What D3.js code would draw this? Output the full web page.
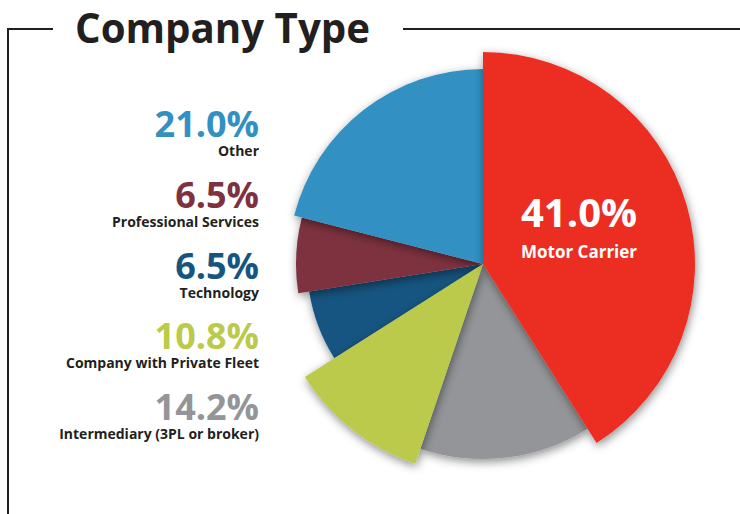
<!DOCTYPE html>
<html>
<head>
<meta charset="utf-8">
<script src="https://cdn.jsdelivr.net/npm/d3@7"></script>
<style>
  body { margin: 0; background: #fff; }
  text { font-family: "Open Sans", "Liberation Sans", sans-serif; font-weight: 700; }
</style>
</head>
<body>
<svg id="chart"></svg>
<script>
// Data (clockwise from 12 o'clock)
const categories = ['Motor Carrier', 'Intermediary (3PL or broker)', 'Company with Private Fleet',
                    'Technology', 'Professional Services', 'Other'];
const shares = [41.0, 14.2, 10.8, 6.5, 6.5, 21.0];

// legend order, top to bottom
const legendOrder = ['Other', 'Professional Services', 'Technology',
                     'Company with Private Fleet', 'Intermediary (3PL or broker)'];

const colors = {
  'Motor Carrier': '#ec2e24',
  'Intermediary (3PL or broker)': '#939598',
  'Company with Private Fleet': '#bbca4b',
  'Technology': '#175581',
  'Professional Services': '#7e3140',
  'Other': '#3390c3'
};

// each wedge sticks out a different amount
const radii = {
  'Motor Carrier': 212,
  'Intermediary (3PL or broker)': 195,
  'Company with Private Fleet': 211,
  'Technology': 176,
  'Professional Services': 187,
  'Other': 195
};
// draw order so the shadows overlap the way they do in the original
const drawOrder = ['Technology', 'Professional Services', 'Intermediary (3PL or broker)',
                   'Other', 'Company with Private Fleet', 'Motor Carrier'];

const width = 740, height = 514;
const cx = 483, cy = 264;
const ink = '#231f20';

const svg = d3.select('#chart')
    .attr('width', width)
    .attr('height', height);

const defs = svg.append('defs');
const shadow = defs.append('filter')
    .attr('id', 'shadow')
    .attr('x', '-20%').attr('y', '-20%')
    .attr('width', '140%').attr('height', '140%');
shadow.append('feDropShadow')
    .attr('dx', 1).attr('dy', 3)
    .attr('stdDeviation', 5)
    .attr('flood-color', '#000')
    .attr('flood-opacity', 0.45);

// frame with the title breaking the top rule
svg.append('path')
    .attr('d', `M8,${height + 2} V29 H53 M403,29 H${width + 2}`)
    .attr('fill', 'none')
    .attr('stroke', ink)
    .attr('stroke-width', 2);

svg.append('text')
    .attr('x', 75)
    .attr('y', 43)
    .attr('font-size', 41)
    .attr('fill', ink)
    .text('Company Type')
    .call(fitWidth, 295);

// pie
const data = categories.map((c, i) => ({category: c, value: shares[i]}));
const pie = d3.pie()
    .sort(null)
    .value(d => d.value)
    .startAngle(0)
    .endAngle(2 * Math.PI);
const arcs = pie(data);
arcs.sort((a, b) => drawOrder.indexOf(a.data.category) - drawOrder.indexOf(b.data.category));

const arc = d3.arc()
    .innerRadius(0)
    .outerRadius(d => radii[d.data.category]);

const chart = svg.append('g')
    .attr('transform', `translate(${cx},${cy})`);

chart.selectAll('.slice')
    .data(arcs)
  .join('path')
    .attr('class', 'slice')
    .attr('d', arc)
    .attr('fill', d => colors[d.data.category])
    .attr('filter', 'url(#shadow)');

// label inside the big wedge
const motor = arcs.find(d => d.data.category === 'Motor Carrier');
const [lx, ly] = d3.pointRadial((motor.startAngle + motor.endAngle) / 2, 100);
chart.append('text')
    .attr('x', lx)
    .attr('y', ly - 9)
    .attr('text-anchor', 'middle')
    .attr('font-size', 40)
    .attr('fill', '#fff')
    .text(d3.format('.1f')(motor.data.value) + '%')
    .call(fitWidth, 117);
chart.append('text')
    .attr('x', lx)
    .attr('y', ly + 22)
    .attr('text-anchor', 'middle')
    .attr('font-size', 17)
    .attr('fill', '#fff')
    .text(motor.data.category)
    .call(fitWidth, 117);

// legend on the left, right aligned
const legendY = d3.scalePoint()
    .domain(legendOrder)
    .range([137, 420]);

const legend = svg.append('g')
    .attr('transform', 'translate(259,0)');

const items = legend.selectAll('.item')
    .data(legendOrder)
  .join('g')
    .attr('class', 'item')
    .attr('transform', d => `translate(0,${legendY(d)})`);

items.append('text')
    .attr('text-anchor', 'end')
    .attr('font-size', 36)
    .attr('fill', d => colors[d])
    .text(d => d3.format('.1f')(shares[categories.indexOf(d)]) + '%');

items.append('text')
    .attr('y', 19)
    .attr('text-anchor', 'end')
    .attr('font-size', 14)
    .attr('fill', ink)
    .text(d => d);

function fitWidth(sel, target) {
  sel.each(function() {
    const w = this.getComputedTextLength();
    if (Math.abs(w - target) > 2) {
      d3.select(this)
          .attr('textLength', target)
          .attr('lengthAdjust', 'spacingAndGlyphs');
    }
  });
}
</script>
</body>
</html>
